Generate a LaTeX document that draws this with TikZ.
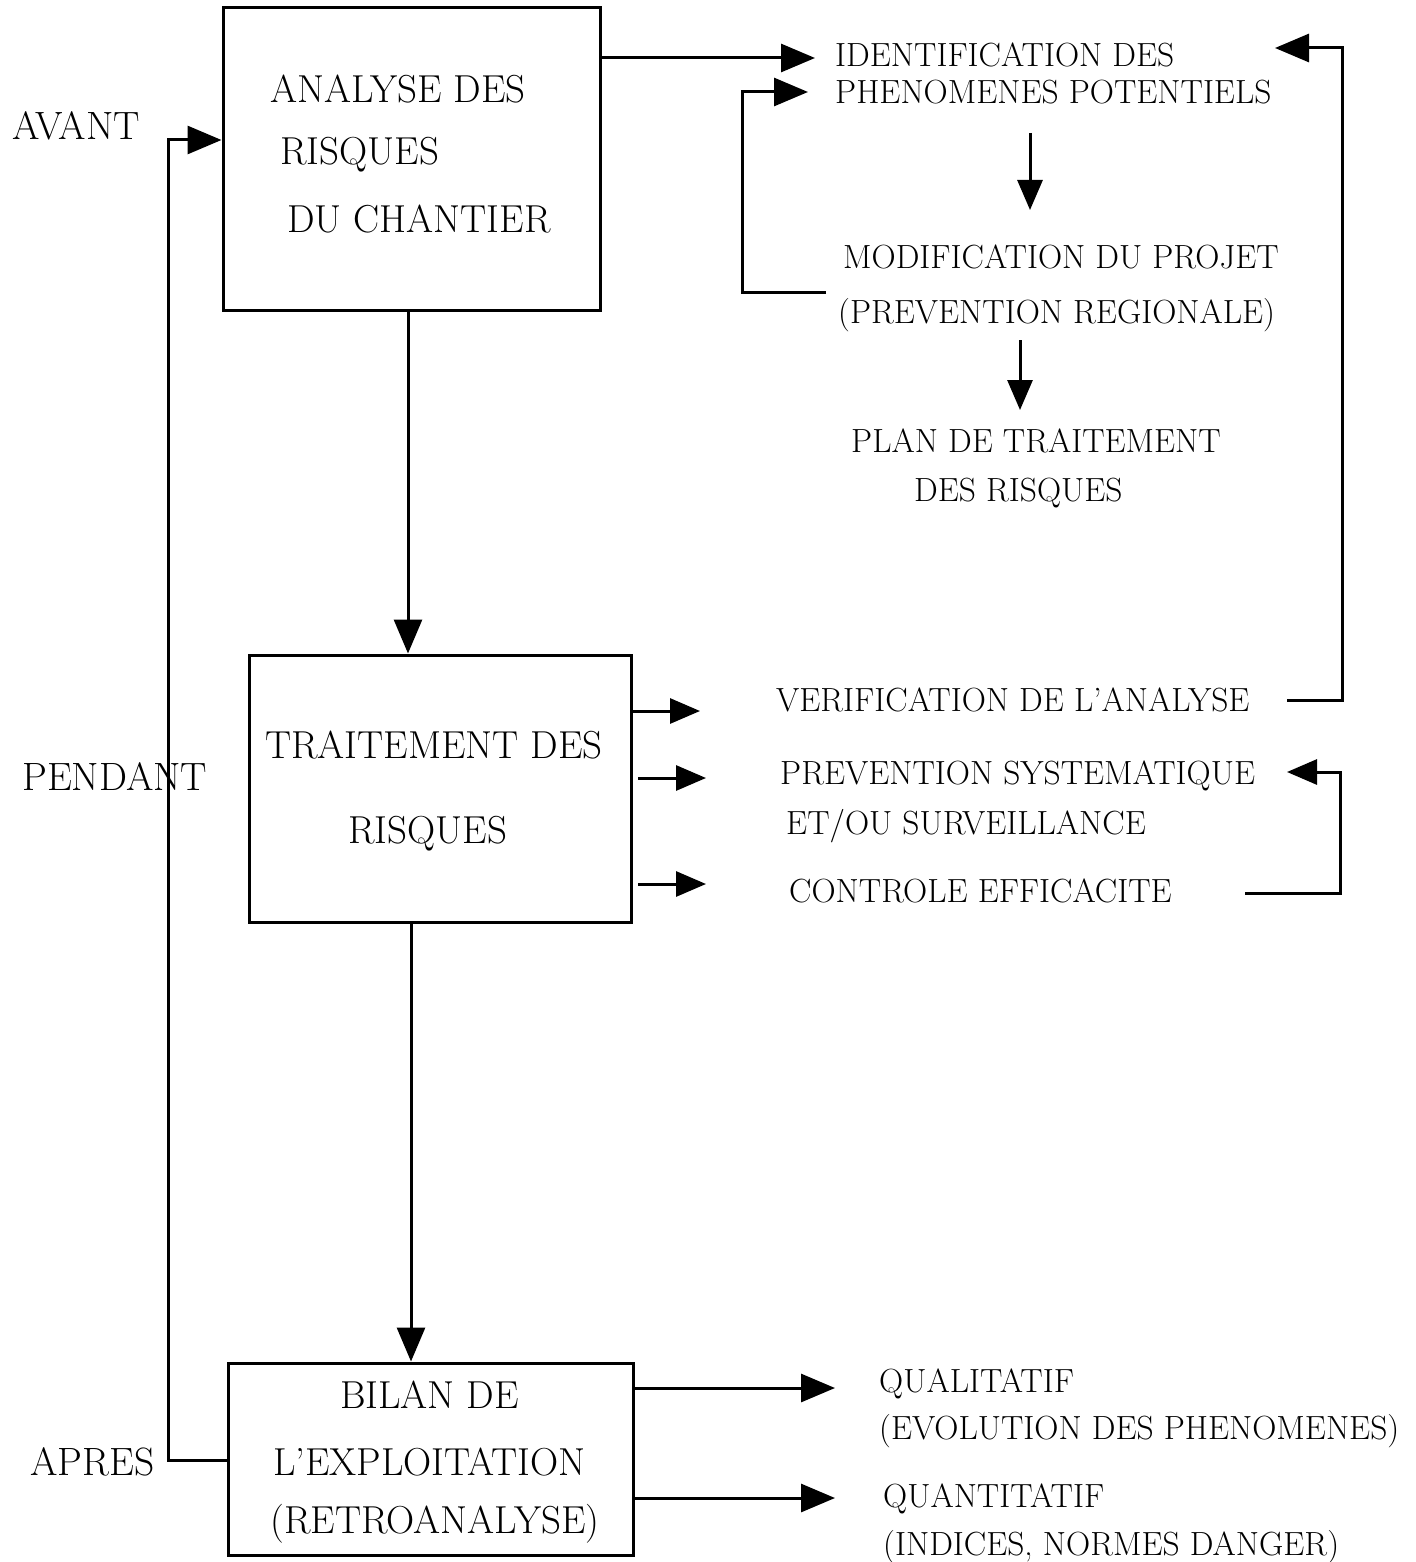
\documentclass[tikz,border=0pt]{standalone}
\usepackage{fontspec}
\usetikzlibrary{arrows.meta}
\begin{document}
\begin{tikzpicture}[x=1pt,y=-1pt,
  boxst/.style={draw,line width=3pt,inner sep=0pt},
  bt/.style={inner sep=0pt,anchor=base west,font=\fontsize{39}{39}\selectfont},
  lt/.style={inner sep=0pt,anchor=base west,font=\fontsize{39.5}{39.5}\selectfont},
  rt/.style={inner sep=0pt,anchor=base west,font=\fontsize{33.5}{33.5}\selectfont},
  ln/.style={line width=3pt},
  arr/.style={line width=3pt,-{Triangle[length=34pt,width=28pt]}},
  sarr/.style={line width=3pt,-{Triangle[length=30pt,width=25pt]}}]
\useasboundingbox (0,0) rectangle (1415,1562);
% boxes
\node[boxst,minimum width=377pt,minimum height=302pt] (b1) at (411.5,159) {};
\node[boxst,minimum width=382pt,minimum height=267pt] (b2) at (440,788.5) {};
\node[boxst,minimum width=405pt,minimum height=192pt] (b3) at (430.5,1459) {};
% box texts
\node[bt] (b1a) at (270,103) {ANALYSE DES};
\node[bt] (b1b) at (280,165) {RISQUES};
\node[bt] (b1c) at (287,233) {DU CHANTIER};
\node[bt] (b2a) at (265,758) {TRAITEMENT DES};
\node[bt] (b2b) at (348,843) {RISQUES};
\node[bt] (b3a) at (340,1408) {BILAN DE};
\node[bt] (b3b) at (273,1475) {L'EXPLOITATION};
\node[bt] (b3c) at (270,1533) {(RETROANALYSE)};
% phase labels
\node[lt] (avant) at (12,140) {AVANT};
\node[lt] (pendant) at (22,790) {PENDANT};
\node[lt] (apres) at (30,1475) {APRES};
% right texts
\node[rt] (idA) at (835,67) {IDENTIFICATION DES};
\node[rt] (idB) at (835,104) {PHENOMENES POTENTIELS};
\node[rt] (moA) at (843,269) {MODIFICATION DU PROJET};
\node[rt] (moB) at (838,323) {(PREVENTION REGIONALE)};
\node[rt] (plA) at (851,452) {PLAN DE TRAITEMENT};
\node[rt] (plB) at (914,501) {DES RISQUES};
\node[rt] (ve) at (776,711) {VERIFICATION DE L'ANALYSE};
\node[rt] (prA) at (780,784) {PREVENTION SYSTEMATIQUE};
\node[rt] (prB) at (786,834) {ET/OU SURVEILLANCE};
\node[rt] (co) at (789,902) {CONTROLE EFFICACITE};
\node[rt] (qlA) at (879,1392) {QUALITATIF};
\node[rt] (qlB) at (879,1439) {(EVOLUTION DES PHENOMENES)};
\node[rt] (qnA) at (883,1507) {QUANTITATIF};
\node[rt] (qnB) at (883,1555) {(INDICES, NORMES DANGER)};
% coordinates for free ends
\coordinate (tA) at (815,58);
\coordinate (tB) at (808,92);
\coordinate (sB) at (826,292);
\coordinate (d1s) at (1030,133);
\coordinate (d1e) at (1030,210);
\coordinate (d2s) at (1020,340);
\coordinate (d2e) at (1020,410);
\coordinate (sV) at (1287,700);
\coordinate (tR) at (1275,48);
\coordinate (m1) at (700,711);
\coordinate (m2s) at (638,778);
\coordinate (m2) at (706,778);
\coordinate (m3s) at (638,884);
\coordinate (m3) at (706,884);
\coordinate (sC) at (1245,893);
\coordinate (tP) at (1287,772);
\coordinate (q1) at (835,1388);
\coordinate (q2) at (835,1498);
% main vertical arrows
\draw[arr] (b1.south -| 408,0) -- (b2.north -| 408,0);
\draw[arr] (b2.south -| 411,0) -- (b3.north -| 411,0);
% feedback loop on the left
\draw[arr] (b3.west |- 0,1460) -- (168,1460) -- (168,140) -- (b1.west |- 0,140);
% top right
\draw[arr] (b1.east |- tA) -- (tA);
\draw[arr] (sB) -- (742,292) -- (742,92) -- (tB);
\draw[sarr] (d1s) -- (d1e);
\draw[sarr] (d2s) -- (d2e);
\draw[arr] (sV) -- (1342,700) -- (1342,48) -- (tR);
% middle
\draw[sarr] (b2.east |- m1) -- (m1);
\draw[sarr] (m2s) -- (m2);
\draw[sarr] (m3s) -- (m3);
\draw[sarr] (sC) -- (1340,893) -- (1340,772) -- (tP);
% bottom
\draw[arr] (b3.east |- q1) -- (q1);
\draw[arr] (b3.east |- q2) -- (q2);
\end{tikzpicture}
\end{document}
